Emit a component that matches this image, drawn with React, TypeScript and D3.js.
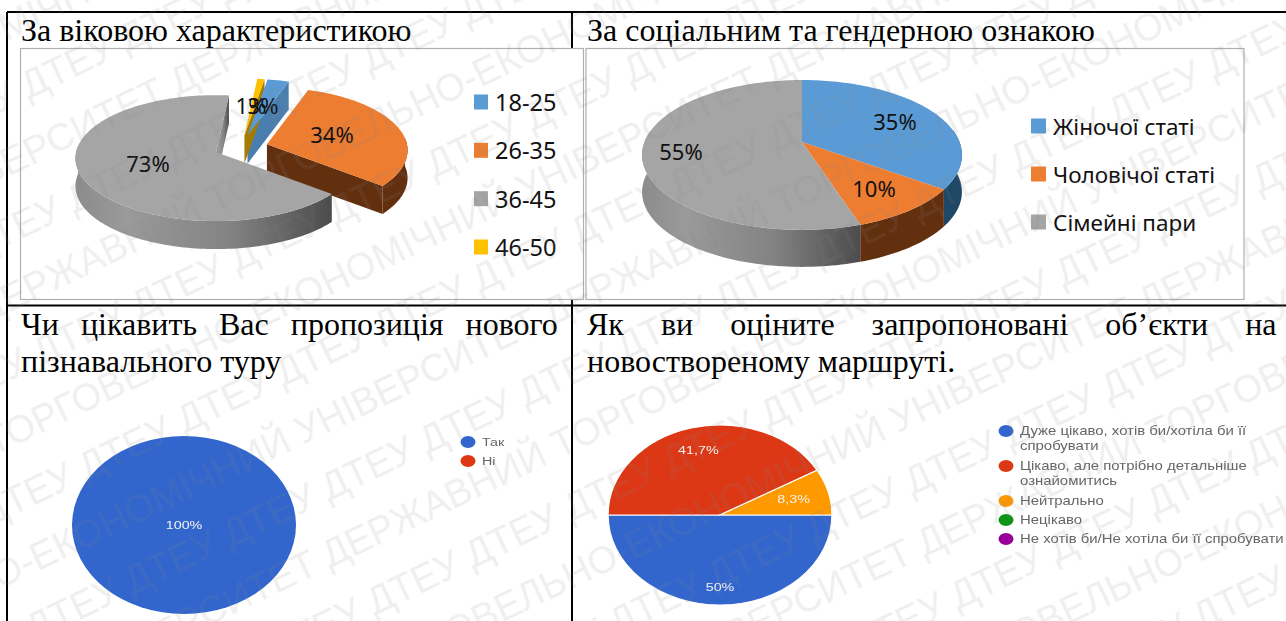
import React from "react";
import * as d3 from "d3";

// values
const ageLabels = ["18-25", "26-35", "36-45", "46-50"];
const ageValues = [3, 34, 73, 1];
const ageText = ["3%", "34%", "73%", "1%"];

const socialLabels = ["Жіночої статі", "Чоловічої статі", "Сімейні пари"];
const socialValues = [35, 10, 55];
const socialText = ["35%", "10%", "55%"];

const interestLabels = ["Так", "Ні"];
const interestValues = [100, 0];
const interestText = ["100%", ""];

const ratingLabels = [
  ["Дуже цікаво, хотів би/хотіла би її", "спробувати"],
  ["Цікаво, але потрібно детальніше", "ознайомитись"],
  ["Нейтрально"],
  ["Нецікаво"],
  ["Не хотів би/Не хотіла би її спробувати"],
];
const ratingValues = [50, 41.7, 8.3, 0, 0];
const ratingText = ["50%", "41,7%", "8,3%", "", ""];

const officeColors = ["#5b9bd5", "#ed7d31", "#a5a5a5", "#ffc000"];
const googleColors = ["#3366cc", "#dc3912", "#ff9900", "#109618", "#990099"];

const watermarkName = "ДЕРЖАВНИЙ ТОРГОВЕЛЬНО-ЕКОНОМІЧНИЙ УНІВЕРСИТЕТ ";
const watermarkShort = "ДТЕУ ";

const serif = "'Liberation Serif', serif";
const sans = "'Noto Sans', sans-serif";
const googleFont = "'Liberation Sans', sans-serif";

const rad = Math.PI / 180;
const line = d3.line();
// the pasted form screenshots are stretched sideways in the document
const stretch = 1.245;

type Pie3DProps = {
  values: number[];
  text: string[];
  wallColors: string[];
  gradId: string;
  cx: number;
  cy: number;
  rx: number;
  ry: number;
  k: number; // perspective, near edge is bigger
  depth: number;
  startDeg: number;
  explode: number;
  labelAt: [number, number][];
};

const Pie3D: React.FC<Pie3DProps> = ({ values, text, wallColors, gradId, cx, cy, rx, ry, k, depth, startDeg, explode, labelAt }) => {
  const arcs = d3
    .pie<number>()
    .sort(null)
    .startAngle(startDeg * rad)
    .endAngle((startDeg + 360) * rad)(values);

  const slices = arcs.map((a, i) => {
    const mid = (a.startAngle + a.endAngle) / 2;
    const ax = cx + explode * Math.sin(mid);
    const ay = cy - explode * (ry / rx) * Math.cos(mid);
    const rim = (t: number): [number, number] => {
      const u = Math.sin(t);
      const v = -Math.cos(t);
      const s = 1 / (1 - k * v);
      return [ax + rx * u * s, ay + ry * v * s];
    };
    const sweep = (from: number, to: number) =>
      [...d3.range(from, to, 1.5 * rad), to].map(rim);
    const down = (p: [number, number]): [number, number] => [p[0], p[1] + depth];

    const top = line([[ax, ay], ...sweep(a.startAngle, a.endAngle)]) + "Z";

    const walls: { d: string; fill: string }[] = [];
    // cut faces seen through the exploded gaps
    if (Math.sin(a.endAngle) > 0 && explode > 0) {
      const r = rim(a.endAngle);
      walls.push({ d: line([[ax, ay], r, down(r), [ax, ay + depth]]) + "Z", fill: wallColors[i] });
    }
    // outer wall, only the front part of the rim
    const lo = Math.max(a.startAngle, Math.acos(k));
    const hi = Math.min(a.endAngle, 2 * Math.PI - Math.acos(k));
    if (hi > lo) {
      const pts = sweep(lo, hi);
      walls.push({ d: line([...pts, ...pts.map(down).reverse()]) + "Z", fill: wallColors[i] });
    }
    return { i, top, walls };
  });

  return (
    <g>
      <defs>
        <linearGradient id={gradId} x1="0" x2="1" y1="0" y2="0">
          <stop offset="0" stopColor="#8c8c8c" />
          <stop offset="0.2" stopColor="#9a9a9a" />
          <stop offset="0.6" stopColor="#838383" />
          <stop offset="1" stopColor="#4c4c4c" />
        </linearGradient>
      </defs>
      {slices.map((s) => s.walls.map((w, j) => <path key={`${s.i}-${j}`} d={w.d} fill={w.fill} />))}
      {slices.map((s) => (
        <path key={s.i} d={s.top} fill={officeColors[s.i]} />
      ))}
      {text.map((t, i) => (
        <text key={i} x={labelAt[i][0]} y={labelAt[i][1]} fontFamily={sans} fontSize={22} textAnchor="middle" dominantBaseline="central" fill="#111">
          {t}
        </text>
      ))}
    </g>
  );
};

const WideText: React.FC<{ x: number; y: number; size: number; fill: string; anchor?: string; children: string }> = ({ x, y, size, fill, anchor = "start", children }) => (
  <text transform={`translate(${x},${y}) scale(${stretch},1)`} fontFamily={googleFont} fontSize={size} fill={fill} textAnchor={anchor} dominantBaseline="central">
    {children}
  </text>
);

type FlatPieProps = {
  values: number[];
  text: string[];
  cx: number;
  cy: number;
  rx: number;
  ry: number;
  startDeg: number;
  labelRadius: number[];
};

const FlatPie: React.FC<FlatPieProps> = ({ values, text, cx, cy, rx, ry, startDeg, labelRadius }) => {
  const arcs = d3
    .pie<number>()
    .sort(null)
    .startAngle(startDeg * rad)
    .endAngle((startDeg + 360) * rad)(values);
  const arc = d3.arc<d3.PieArcDatum<number>>().innerRadius(0).outerRadius(1);
  const many = values.filter((v) => v > 0).length > 1;
  return (
    <g>
      <g transform={`translate(${cx},${cy}) scale(${rx},${ry})`}>
        {arcs.map((a, i) =>
          values[i] > 0 ? (
            <path key={i} d={arc(a) ?? ""} fill={googleColors[i]} stroke={many ? "#fff" : "none"} strokeWidth={0.012} />
          ) : null
        )}
      </g>
      {arcs.map((a, i) => {
        if (!text[i]) return null;
        const mid = (a.startAngle + a.endAngle) / 2;
        const r = many ? labelRadius[i] : 0;
        return (
          <WideText key={i} x={cx + r * rx * Math.sin(mid)} y={cy - r * ry * Math.cos(mid)} size={11.5} fill="#f2f2f2" anchor="middle">
            {text[i]}
          </WideText>
        );
      })}
    </g>
  );
};

const Title: React.FC<{ x: number; y: number; spacing?: number; children: string }> = ({ x, y, spacing = 0, children }) => (
  <text x={x} y={y} fontFamily={serif} fontSize={32} fill="#000" style={{ wordSpacing: spacing }}>
    {children}
  </text>
);

export default function App() {
  const ageY = d3.scalePoint<string>().domain(ageLabels).range([102, 247]);
  const socialY = d3.scalePoint<string>().domain(socialLabels).range([126, 222]);
  const ratingRows = [431, 466, 501, 520, 539];

  // watermark: name rows and ДТЕУ rows take turns
  const markRows = d3.range(-6, 16);
  const nameWidth = 1150;

  return (
    <>
      <style>{"body{margin:0;background:#fff;overflow:hidden}"}</style>
      <svg width={1286} height={621} style={{ display: "block" }}>
        <defs>
          <filter id="soft" x="-5%" y="-5%" width="110%" height="110%">
            <feGaussianBlur stdDeviation={0.55} />
          </filter>
        </defs>
        <rect width={1286} height={621} fill="#fff" />

        {/* table rules */}
        <g stroke="#000" strokeWidth={2}>
          <line x1={7} x2={1286} y1={12} y2={12} />
          <line x1={7} x2={1286} y1={305.5} y2={305.5} />
          <line x1={7} x2={7} y1={12} y2={621} />
          <line x1={572} x2={572} y1={12} y2={621} />
        </g>

        <Title x={21} y={41}>За віковою характеристикою</Title>
        <Title x={587} y={41}>За соціальним та гендерною ознакою</Title>
        <Title x={21} y={335} spacing={14}>Чи цікавить Вас пропозиція нового</Title>
        <Title x={21} y={372}>пізнавального туру</Title>
        <Title x={587} y={335} spacing={29}>Як ви оціните запропоновані об’єкти на</Title>
        <Title x={587} y={372}>новоствореному маршруті.</Title>

        {/* first office chart */}
        <rect x={20.5} y={48.5} width={563} height={251} fill="#fff" stroke="#b0b0b0" strokeWidth={1.2} />
        <Pie3D
          values={ageValues}
          text={ageText}
          wallColors={["#4a7eae", "#63300f", "url(#wallA)", "#a67c00"]}
          gradId="wallA"
          cx={241}
          cy={147.5}
          rx={140}
          ry={62.4}
          k={0.095}
          depth={28}
          startDeg={9}
          explode={27}
          labelAt={[[263, 105], [332, 134], [148, 163], [251, 105]]}
        />
        {ageLabels.map((d, i) => (
          <g key={d}>
            <rect x={474} y={ageY(d)! - 7.5} width={14} height={15} fill={officeColors[i]} />
            <text x={495} y={ageY(d)!} fontFamily={sans} fontSize={23.5} dominantBaseline="central" fill="#111">{d}</text>
          </g>
        ))}

        {/* second office chart */}
        <rect x={586} y={48.5} width={658} height={251} fill="#fff" stroke="#b0b0b0" strokeWidth={1.2} />
        <Pie3D
          values={socialValues}
          text={socialText}
          wallColors={["#1f4766", "#63300f", "url(#wallB)"]}
          gradId="wallB"
          cx={802}
          cy={142}
          rx={157.5}
          ry={72.7}
          k={0.173}
          depth={37}
          startDeg={0}
          explode={0}
          labelAt={[[895, 121], [874, 188], [681, 151]]}
        />
        {socialLabels.map((d, i) => (
          <g key={d}>
            <rect x={1031} y={socialY(d)! - 7.5} width={15} height={15} fill={officeColors[i]} />
            <text x={1053} y={socialY(d)!} fontFamily={sans} fontSize={22.5} dominantBaseline="central" fill="#111">{d}</text>
          </g>
        ))}

        {/* the two pasted form charts are blurry screenshots */}
        <g filter="url(#soft)">
          <FlatPie values={interestValues} text={interestText} cx={184} cy={525} rx={112} ry={89} startDeg={0} labelRadius={[0, 0]} />
          {interestLabels.map((d, i) => (
            <g key={d}>
              <ellipse cx={468} cy={442 + i * 19} rx={7.5} ry={6} fill={googleColors[i]} />
              <WideText x={482} y={442 + i * 19} size={11.5} fill="#666">{d}</WideText>
            </g>
          ))}

          <FlatPie values={ratingValues} text={ratingText} cx={720} cy={515} rx={112} ry={90} startDeg={90} labelRadius={[0.8, 0.75, 0.68, 0, 0]} />
          {ratingLabels.map((lines, i) => (
            <g key={i}>
              <ellipse cx={1006} cy={ratingRows[i]} rx={7.5} ry={6} fill={googleColors[i]} />
              {lines.map((l, j) => (
                <WideText key={j} x={1020} y={ratingRows[i] + j * 15.5} size={12} fill="#666">{l}</WideText>
              ))}
            </g>
          ))}
        </g>

        {/* watermark goes over everything */}
        <g transform="rotate(-25.5)" fontFamily={googleFont} fontSize={38} fill="#808080" fillOpacity={0.13}>
          {markRows.map((r) => {
            const isName = r % 2 === 0;
            const shift = -153 - 152 * r;
            const start = ((shift % nameWidth) + nameWidth) % nameWidth - nameWidth;
            return (
              <text key={r} x={isName ? start : -400 + ((r * 61) % 130)} y={286 + 61.5 * r}>
                {isName ? watermarkName.repeat(3) : watermarkShort.repeat(22)}
              </text>
            );
          })}
        </g>
      </svg>
    </>
  );
}
